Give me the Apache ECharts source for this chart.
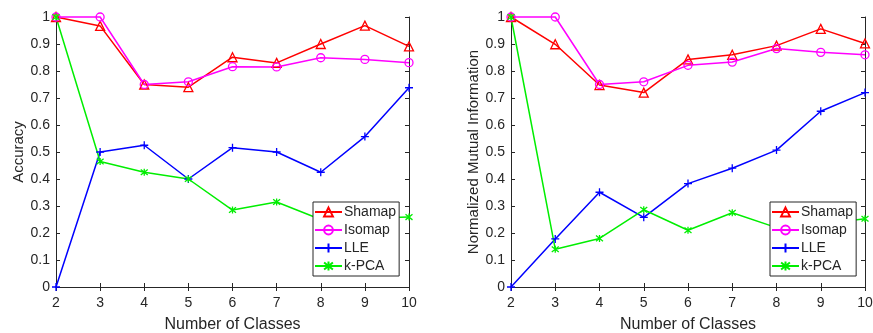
<!DOCTYPE html>
<html>
<head>
<meta charset="utf-8">
<script src="https://cdn.jsdelivr.net/npm/echarts@6/dist/echarts.min.js"></script>
<style>
html,body{margin:0;padding:0;background:#fff;}
#chart{width:873px;height:333px;}
</style>
</head>
<body>
<div id="chart"></div>
<script>
// ---- data ----
const classes = [2, 3, 4, 5, 6, 7, 8, 9, 10];
const seriesNames = ['Shamap', 'Isomap', 'LLE', 'k-PCA'];

// Left panel: Accuracy
const accShamap = [1.00, 0.967, 0.750, 0.740, 0.851, 0.830, 0.900, 0.968, 0.891];
const accIsomap = [1.00, 1.000, 0.750, 0.760, 0.816, 0.815, 0.849, 0.843, 0.831];
const accLLE    = [0.00, 0.500, 0.525, 0.400, 0.516, 0.500, 0.425, 0.557, 0.738];
const accKPCA   = [1.00, 0.465, 0.425, 0.400, 0.285, 0.315, 0.250, 0.255, 0.259];

// Right panel: Normalized Mutual Information
const nmiShamap = [1.00, 0.899, 0.748, 0.720, 0.843, 0.860, 0.894, 0.956, 0.902];
const nmiIsomap = [1.00, 1.000, 0.750, 0.760, 0.821, 0.833, 0.883, 0.869, 0.860];
const nmiLLE    = [0.00, 0.178, 0.351, 0.258, 0.383, 0.440, 0.507, 0.651, 0.720];
const nmiKPCA   = [1.00, 0.140, 0.180, 0.286, 0.210, 0.275, 0.220, 0.232, 0.253];

const yTicks = [0, 0.1, 0.2, 0.3, 0.4, 0.5, 0.6, 0.7, 0.8, 0.9, 1];
const xTitle = 'Number of Classes';
const yTitleLeft = 'Accuracy';
const yTitleRight = 'Normalized Mutual Information';

// ---- styles ----
const TXT = '#262626';
const FONT = '"Liberation Sans", Arial, Helvetica, sans-serif';
const styles = {
  'Shamap': { color: '#ff0000', symbol: 'triangle', size: 9 },
  'Isomap': { color: '#ff00ff', symbol: 'circle', size: 8 },
  'LLE':    { color: '#0000ff', symbol: 'path://M5,0L5,10M0,5L10,5', size: 8 },
  'k-PCA':  { color: '#00ee00', symbol: 'path://M5,0L5,10M1,1L9,9M9,1L1,9', size: 7 }
};

function pairs(arr) { return classes.map((c, i) => [c, arr[i]]); }

function mkSeries(name, arr, gi) {
  const s = styles[name];
  return {
    name: name,
    type: 'line',
    xAxisIndex: gi * 2,
    yAxisIndex: gi * 2,
    data: pairs(arr),
    symbol: s.symbol,
    symbolSize: s.size,
    color: s.color,
    lineStyle: { color: s.color, width: 1.5 },
    itemStyle: { color: 'rgba(255,255,255,0)', borderColor: s.color, borderWidth: 1.3 },
    emphasis: { disabled: true },
    clip: false
  };
}

function xAxes(gi) {
  const base = {
    type: 'value', gridIndex: gi, min: 2, max: 10, interval: 1,
    axisLine: { show: true, lineStyle: { color: TXT, width: 1 } },
    axisTick: { show: true, inside: true, length: 4, lineStyle: { color: TXT } },
    splitLine: { show: false }
  };
  return [
    Object.assign({}, base, {
      position: 'bottom',
      name: xTitle, nameLocation: 'middle', nameGap: 30,
      nameTextStyle: { color: TXT, fontFamily: FONT, fontSize: 16 },
      axisLabel: { color: TXT, fontFamily: FONT, fontSize: 14, margin: 9 }
    }),
    Object.assign({}, base, { position: 'top', axisLabel: { show: false } })
  ];
}

function yAxes(gi, title) {
  const base = {
    type: 'value', gridIndex: gi, min: 0, max: 1, interval: 0.1,
    axisLine: { show: true, lineStyle: { color: TXT, width: 1 } },
    axisTick: { show: true, inside: true, length: 4, lineStyle: { color: TXT } },
    splitLine: { show: false }
  };
  return [
    Object.assign({}, base, {
      position: 'left',
      name: title, nameLocation: 'middle', nameGap: 30,
      nameTextStyle: { color: TXT, fontFamily: FONT, fontSize: 15 },
      axisLabel: {
        color: TXT, fontFamily: FONT, fontSize: 14, margin: 6,
        formatter: v => {
          const t = yTicks.find(k => Math.abs(k - v) < 1e-6);
          return t === undefined ? '' : String(t);
        }
      }
    }),
    Object.assign({}, base, { position: 'right', axisLabel: { show: false } })
  ];
}

function mkLegend(left) {
  return {
    orient: 'vertical',
    left: left, top: 202,
    data: seriesNames,
    backgroundColor: '#fff',
    borderColor: TXT, borderWidth: 1,
    padding: [3, 3, 3, 1],
    itemWidth: 27, itemHeight: 11, itemGap: 4,
    selectedMode: false,
    textStyle: { color: TXT, fontFamily: FONT, fontSize: 14, padding: [0, 0, 0, -3] }
  };
}

const option = {
  animation: false,
  backgroundColor: '#fff',
  grid: [
    { left: 56, top: 17, width: 353, height: 270, containLabel: false, outerBoundsMode: 'none' },
    { left: 511, top: 17, width: 354, height: 270, containLabel: false, outerBoundsMode: 'none' }
  ],
  xAxis: [...xAxes(0), ...xAxes(1)],
  yAxis: [...yAxes(0, yTitleLeft), ...yAxes(1, yTitleRight)],
  legend: [mkLegend(313), mkLegend(770)],
  series: [
    mkSeries('Shamap', accShamap, 0),
    mkSeries('Isomap', accIsomap, 0),
    mkSeries('LLE', accLLE, 0),
    mkSeries('k-PCA', accKPCA, 0),
    mkSeries('Shamap', nmiShamap, 1),
    mkSeries('Isomap', nmiIsomap, 1),
    mkSeries('LLE', nmiLLE, 1),
    mkSeries('k-PCA', nmiKPCA, 1)
  ]
};

const chart = echarts.init(document.getElementById('chart'), null, { renderer: 'canvas' });
chart.setOption(option);
</script>
</body>
</html>
